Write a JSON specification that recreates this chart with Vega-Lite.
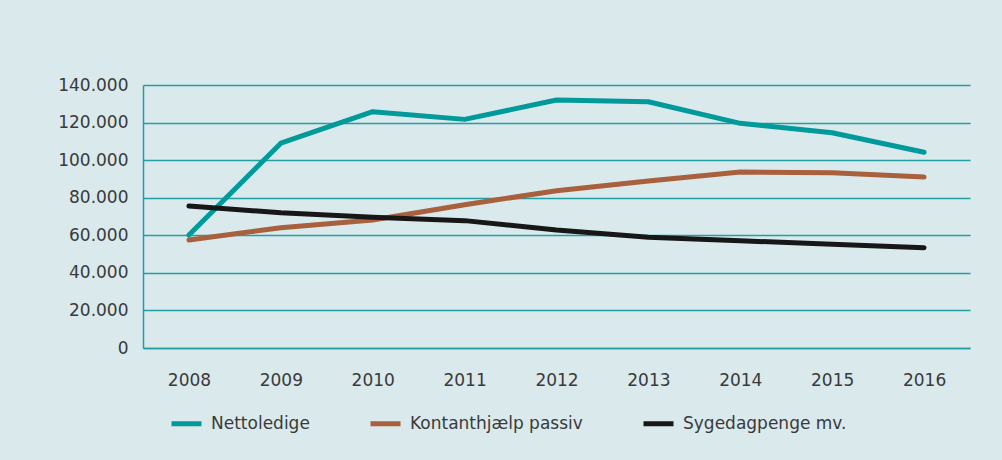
{
  "$schema": "https://vega.github.io/schema/vega-lite/v6.json",
  "autosize": {"type": "none"},
  "width": 827,
  "height": 263,
  "padding": {"left": 143, "top": 85, "right": 32, "bottom": 112},
  "background": "#d9e9ec",
  "config": {
    "view": {"stroke": null},
    "font": "DejaVu Sans"
  },
  "data": {
    "values": [
      {"year": "2008", "series": "Nettoledige", "value": 60100},
      {"year": "2009", "series": "Nettoledige", "value": 109000},
      {"year": "2010", "series": "Nettoledige", "value": 125800},
      {"year": "2011", "series": "Nettoledige", "value": 121700},
      {"year": "2012", "series": "Nettoledige", "value": 132000},
      {"year": "2013", "series": "Nettoledige", "value": 131100},
      {"year": "2014", "series": "Nettoledige", "value": 119600},
      {"year": "2015", "series": "Nettoledige", "value": 114600},
      {"year": "2016", "series": "Nettoledige", "value": 104200},
      {"year": "2008", "series": "Kontanthjælp passiv", "value": 57500},
      {"year": "2009", "series": "Kontanthjælp passiv", "value": 64000},
      {"year": "2010", "series": "Kontanthjælp passiv", "value": 68100},
      {"year": "2011", "series": "Kontanthjælp passiv", "value": 76300},
      {"year": "2012", "series": "Kontanthjælp passiv", "value": 83700},
      {"year": "2013", "series": "Kontanthjælp passiv", "value": 88900},
      {"year": "2014", "series": "Kontanthjælp passiv", "value": 93700},
      {"year": "2015", "series": "Kontanthjælp passiv", "value": 93300},
      {"year": "2016", "series": "Kontanthjælp passiv", "value": 91000},
      {"year": "2008", "series": "Sygedagpenge mv.", "value": 75600},
      {"year": "2009", "series": "Sygedagpenge mv.", "value": 72000},
      {"year": "2010", "series": "Sygedagpenge mv.", "value": 69600},
      {"year": "2011", "series": "Sygedagpenge mv.", "value": 67800},
      {"year": "2012", "series": "Sygedagpenge mv.", "value": 62800},
      {"year": "2013", "series": "Sygedagpenge mv.", "value": 58900},
      {"year": "2014", "series": "Sygedagpenge mv.", "value": 57100},
      {"year": "2015", "series": "Sygedagpenge mv.", "value": 55200},
      {"year": "2016", "series": "Sygedagpenge mv.", "value": 53400}
    ]
  },
  "mark": {"type": "line", "strokeWidth": 5, "strokeCap": "round", "strokeJoin": "round"},
  "encoding": {
    "x": {
      "field": "year",
      "type": "ordinal",
      "scale": {"type": "point", "padding": 0.5},
      "axis": {
        "title": null,
        "labelAngle": 0,
        "labelFontSize": 17,
        "labelColor": "#3a3a3a",
        "labelPadding": 24,
        "ticks": false,
        "domain": true,
        "domainColor": "#22a0a3",
        "domainWidth": 1.5,
        "grid": false
      }
    },
    "y": {
      "field": "value",
      "type": "quantitative",
      "scale": {"domain": [0, 140000], "nice": false},
      "axis": {
        "title": null,
        "values": [0, 20000, 40000, 60000, 80000, 100000, 120000, 140000],
        "labelExpr": "replace(format(datum.value, ','), ',', '.')",
        "labelFontSize": 17,
        "labelColor": "#3a3a3a",
        "labelPadding": 15,
        "ticks": false,
        "domain": true,
        "domainColor": "#22a0a3",
        "domainWidth": 1.5,
        "grid": true,
        "gridColor": "#22a0a3",
        "gridWidth": 1.5,
        "gridOpacity": 1
      }
    },
    "color": {
      "field": "series",
      "type": "nominal",
      "scale": {
        "domain": ["Nettoledige", "Kontanthjælp passiv", "Sygedagpenge mv."],
        "range": ["#009a9b", "#a8603d", "#171717"]
      },
      "legend": {
        "title": null,
        "orient": "none",
        "direction": "horizontal",
        "legendX": 26,
        "legendY": 321,
        "symbolType": "stroke",
        "symbolSize": 900,
        "symbolStrokeWidth": 5,
        "labelFontSize": 17,
        "labelColor": "#3a3a3a",
        "labelOffset": 7,
        "columnPadding": 50,
        "labelLimit": 400
      }
    }
  }
}
